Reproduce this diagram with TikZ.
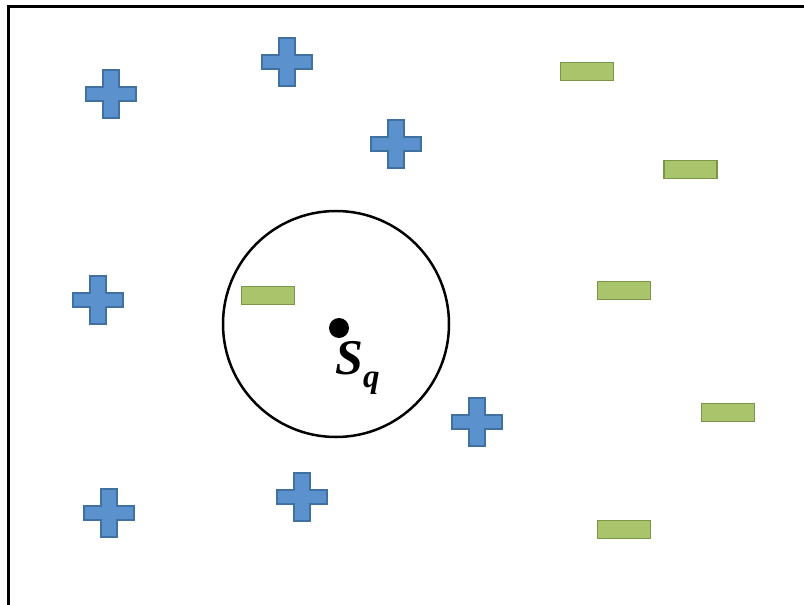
\documentclass[tikz,border=0pt]{standalone}
\usepackage{fontspec}
\setmainfont{Liberation Serif}
\usepackage{tikz}
\usetikzlibrary{positioning}

\definecolor{plusfill}{RGB}{91,145,205}
\definecolor{plusline}{RGB}{65,113,160}
\definecolor{minusfill}{RGB}{169,196,107}
\definecolor{minusline}{RGB}{122,150,72}

\tikzset{
	pics/plussign/.style={code={
		\draw[fill=plusfill, draw=plusline, line width=1.8pt]
			(-8,-24) -- (8,-24) -- (8,-7) -- (25,-7) -- (25,7) -- (8,7) -- (8,24)
			-- (-8,24) -- (-8,7) -- (-25,7) -- (-25,-7) -- (-8,-7) -- cycle;
	}},
	pics/minussign/.style={code={
		\draw[fill=minusfill, draw=minusline, line width=1.8pt] (-26.5,-9) rectangle (26.5,9);
	}},
}

\begin{document}
\begin{tikzpicture}[x=1pt, y=-1pt]
			\useasboundingbox (0,0) rectangle (804,605);
			\draw[line width=3pt] (8,605) -- (8,6) -- (804,6);
			\foreach \px/\py in {111/94, 287/62, 396/144, 98/300, 477/422, 302/497, 109/513}
				\pic at (\px,\py) {plussign};
			\foreach \mx/\my in {587/71.5, 690.5/169.5, 268/295.5, 624/290.5, 728/412.5, 624/529.5}
				\pic at (\mx,\my) {minussign};
			\coordinate (C) at (336,324);
			\draw[line width=2.5pt] (C) circle (113pt);
			\coordinate (Q) at (339,328);
			\fill (Q) circle (10pt);
			\node[anchor=base west, inner sep=0pt] (Sq) at (335,374)
				{\fontsize{50}{50}\selectfont\bfseries\itshape S\raisebox{-13pt}{\fontsize{33}{33}\selectfont q}};
		\end{tikzpicture}
\end{document}
